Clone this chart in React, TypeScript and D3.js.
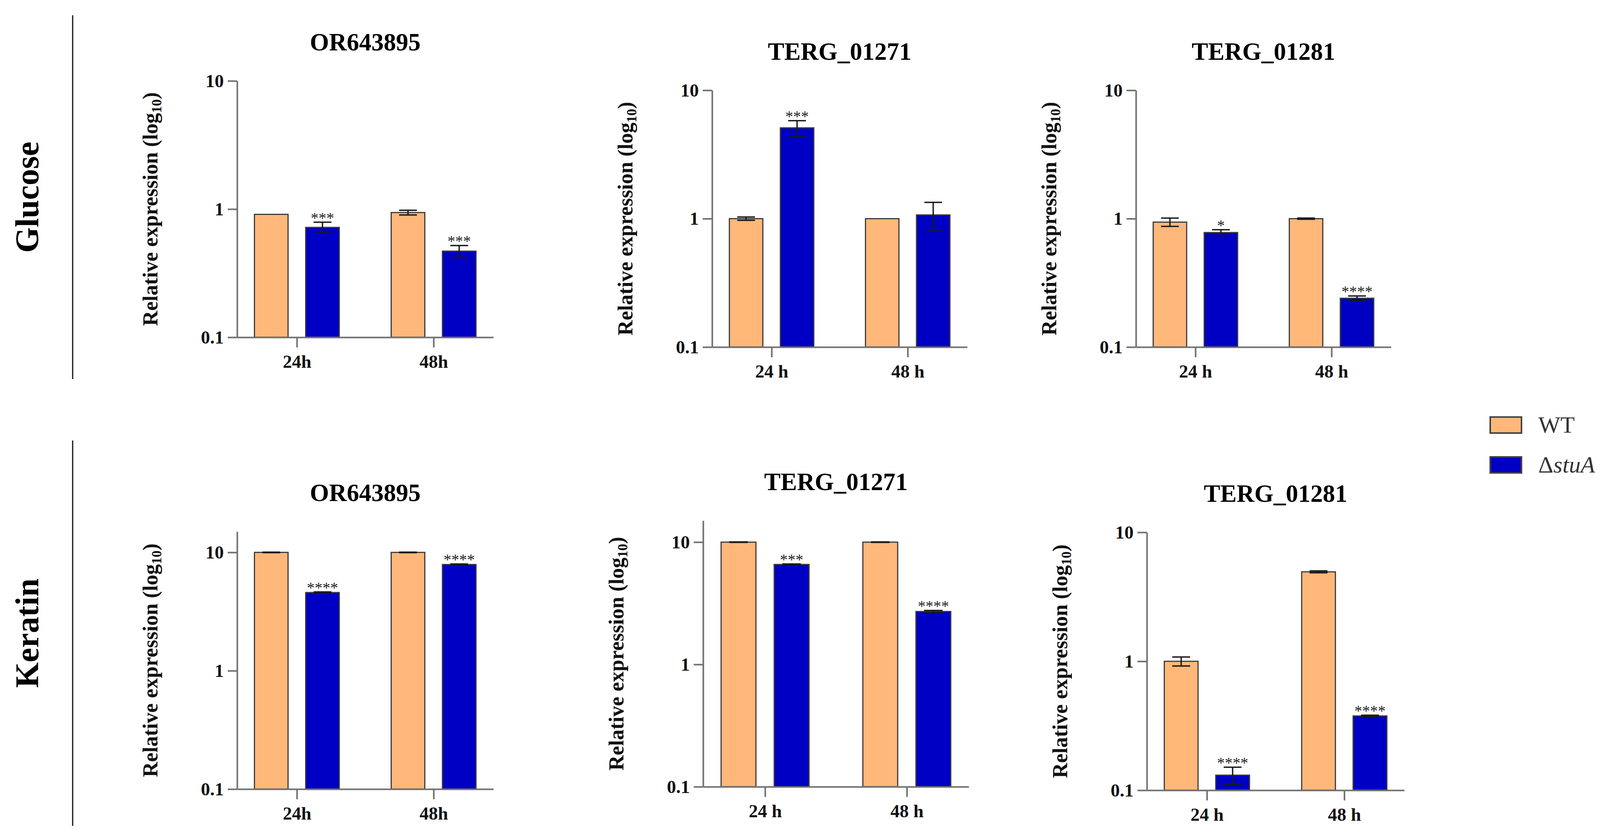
import React, { useEffect, useRef } from 'react';
import * as d3 from 'd3';

// categories
const media = ['Glucose', 'Keratin'];
const genes = ['OR643895', 'TERG_01271', 'TERG_01281'];
const strains = ['WT', 'ΔstuA'];
const timeLabelsCompact = ['24h', '48h'];
const timeLabelsSpaced = ['24 h', '48 h'];
const yTickValues = [0.1, 1, 10];

// relative expression, one inner array per gene: [24 h, 48 h]
const glucoseWT = [[0.91, 0.94], [1.0, 1.0], [0.94, 1.0]];
const glucoseWTErr = [[0, 0.04], [0.03, 0], [0.07, 0.01]];
const glucoseStuA = [[0.72, 0.47], [5.1, 1.07], [0.78, 0.24]];
const glucoseStuAErr = [[0.07, 0.05], [0.7, 0.27], [0.04, 0.01]];
const glucoseStars = [['***', '***'], ['***', ''], ['*', '****']];

const keratinWT = [[10, 10], [10, 10], [1.0, 4.94]];
const keratinWTErr = [[0.05, 0.05], [0.05, 0.05], [0.08, 0.08]];
const keratinStuA = [[4.58, 7.9], [6.57, 2.71], [0.131, 0.377]];
const keratinStuAErr = [[0.05, 0.08], [0.06, 0.05], [0.02, 0.005]];
const keratinStars = [['****', '****'], ['***', '****'], ['****', '****']];

// top of the log axis per panel (glucose row, keratin row)
const yMaxGlucose = [10, 10, 10];
const yMaxKeratin = [15, 15, 10];

const WIDTH = 4107;
const HEIGHT = 2139;
const FONT = "'Liberation Serif', 'Times New Roman', Times, serif";
const colors: Record<string, string> = { WT: '#FFB87A', 'ΔstuA': '#0000C4' };
const axisColor = '#707070';

// panel frames in pixels
const frames = [
  { x0: 607, x1: 1263, top: 207, bottom: 863 },
  { x0: 1823, x1: 2476, top: 231, bottom: 888 },
  { x0: 2908, x1: 3561, top: 231, bottom: 888 },
  { x0: 607, x1: 1263, top: 1360, bottom: 2019 },
  { x0: 1800, x1: 2480, top: 1332, bottom: 2013 },
  { x0: 2936, x1: 3595, top: 1362, bottom: 2022 },
];
const rowSpans = [[39, 970], [1127, 2113]];

const App: React.FC = () => {
  const svgRef = useRef<SVGSVGElement>(null);

  useEffect(() => {
    if (!svgRef.current) return;
    const svg = d3.select(svgRef.current);
    svg.selectAll('*').remove();

    svg.append('rect').attr('width', WIDTH).attr('height', HEIGHT).attr('fill', '#fff');

    // row labels and dividers
    media.forEach((m, r) => {
      const [y0, y1] = rowSpans[r];
      svg.append('line')
        .attr('x1', 186).attr('x2', 186)
        .attr('y1', y0).attr('y2', y1)
        .attr('stroke', '#111').attr('stroke-width', 3);
      svg.append('text')
        .attr('transform', `translate(98,${(y0 + y1) / 2}) rotate(-90)`)
        .attr('text-anchor', 'middle')
        .attr('font-family', FONT)
        .attr('font-weight', 'bold')
        .attr('font-size', 84)
        .attr('fill', '#000')
        .text(m);
    });

    media.forEach((m, r) => {
      genes.forEach((gene, g) => {
        const f = frames[r * 3 + g];
        const wt = r === 0 ? glucoseWT[g] : keratinWT[g];
        const wtErr = r === 0 ? glucoseWTErr[g] : keratinWTErr[g];
        const mut = r === 0 ? glucoseStuA[g] : keratinStuA[g];
        const mutErr = r === 0 ? glucoseStuAErr[g] : keratinStuAErr[g];
        const stars = r === 0 ? glucoseStars[g] : keratinStars[g];
        const yMax = r === 0 ? yMaxGlucose[g] : yMaxKeratin[g];
        const times = g === 0 ? timeLabelsCompact : timeLabelsSpaced;

        const w = f.x1 - f.x0;
        const x = d3.scalePoint<string>().domain(times).range([f.x0, f.x1]).padding(0.437);
        const inner = d3.scaleBand<string>()
          .domain(strains)
          .range([-w * 0.1655, w * 0.1655])
          .paddingInner(0.344);
        const y = d3.scaleLog().domain([0.1, yMax]).range([f.bottom, f.top]);

        const panel = svg.append('g');

        // bars
        const rows = times.flatMap((t, i) => [
          { t, strain: 'WT', v: wt[i], e: wtErr[i], star: '' },
          { t, strain: 'ΔstuA', v: mut[i], e: mutErr[i], star: stars[i] },
        ]);

        panel.selectAll('rect.bar')
          .data(rows)
          .join('rect')
          .attr('class', 'bar')
          .attr('x', d => (x(d.t) as number) + (inner(d.strain) as number))
          .attr('y', d => y(d.v))
          .attr('width', inner.bandwidth())
          .attr('height', d => f.bottom - y(d.v))
          .attr('fill', d => colors[d.strain])
          .attr('stroke', '#3d3b3b')
          .attr('stroke-width', 3);

        // error bars
        const capW = inner.bandwidth() * 0.53;
        rows.filter(d => d.e > 0).forEach(d => {
          const cx = (x(d.t) as number) + (inner(d.strain) as number) + inner.bandwidth() / 2;
          const yHi = y(d.v + d.e);
          const yLo = y(Math.max(d.v - d.e, 0.1));
          const eg = panel.append('g').attr('stroke', '#1a1a1a').attr('stroke-width', 3.5);
          eg.append('line').attr('x1', cx).attr('x2', cx).attr('y1', yHi).attr('y2', yLo);
          eg.append('line').attr('x1', cx - capW / 2).attr('x2', cx + capW / 2).attr('y1', yHi).attr('y2', yHi);
          eg.append('line').attr('x1', cx - capW / 2).attr('x2', cx + capW / 2).attr('y1', yLo).attr('y2', yLo);
        });

        // significance stars
        rows.filter(d => d.star).forEach(d => {
          const cx = (x(d.t) as number) + (inner(d.strain) as number) + inner.bandwidth() / 2;
          panel.append('text')
            .attr('x', cx)
            .attr('y', y(d.v + d.e) + 2)
            .attr('text-anchor', 'middle')
            .attr('font-family', FONT)
            .attr('font-size', 40)
            .attr('fill', '#222')
            .text(d.star);
        });

        // y axis
        const yAxis = panel.append('g')
          .attr('transform', `translate(${f.x0},0)`)
          .call(
            d3.axisLeft(y)
              .tickValues(yTickValues)
              .tickFormat(d => String(d))
              .tickSize(24)
              .tickSizeOuter(0)
              .tickPadding(10)
          );

        // x axis
        const xAxis = panel.append('g')
          .attr('transform', `translate(0,${f.bottom})`)
          .call(d3.axisBottom(x).tickSize(26).tickSizeOuter(0).tickPadding(19));

        [yAxis, xAxis].forEach(a => {
          a.select('.domain').attr('stroke', axisColor).attr('stroke-width', 4);
          a.selectAll('.tick line').attr('stroke', axisColor).attr('stroke-width', 4);
          a.selectAll('.tick text')
            .attr('font-family', FONT)
            .attr('font-weight', 'bold')
            .attr('font-size', 47)
            .attr('fill', '#111');
        });

        // title
        panel.append('text')
          .attr('x', (f.x0 + f.x1) / 2)
          .attr('y', f.top - 78)
          .attr('text-anchor', 'middle')
          .attr('font-family', FONT)
          .attr('font-weight', 'bold')
          .attr('font-size', 63)
          .attr('fill', '#000')
          .text(gene);

        // y label
        const yl = panel.append('text')
          .attr('transform', `translate(${f.x0 - 204},${(f.top + f.bottom) / 2}) rotate(-90)`)
          .attr('text-anchor', 'middle')
          .attr('font-family', FONT)
          .attr('font-weight', 'bold')
          .attr('font-size', 54)
          .attr('fill', '#111');
        yl.append('tspan').text('Relative expression (log');
        yl.append('tspan').attr('font-size', 35).attr('dy', 10).text('10');
        yl.append('tspan').attr('dy', -10).text(')');
      });
    });

    // legend
    const legend = svg.append('g');
    strains.forEach((s, i) => {
      const ly = 1067 + i * 102;
      legend.append('rect')
        .attr('x', 3815).attr('y', ly)
        .attr('width', 80).attr('height', 41)
        .attr('fill', colors[s])
        .attr('stroke', '#444').attr('stroke-width', 4);
      const t = legend.append('text')
        .attr('x', 3938).attr('y', ly + 40)
        .attr('font-family', FONT)
        .attr('font-size', 60)
        .attr('fill', '#333');
      if (s === 'WT') {
        t.text('WT');
      } else {
        t.append('tspan').text('Δ');
        t.append('tspan').attr('font-style', 'italic').text('stuA');
      }
    });
  }, []);

  return (
    <svg
      ref={svgRef}
      width={WIDTH}
      height={HEIGHT}
      style={{ position: 'absolute', left: 0, top: 0, display: 'block' }}
    />
  );
};

export default App;
